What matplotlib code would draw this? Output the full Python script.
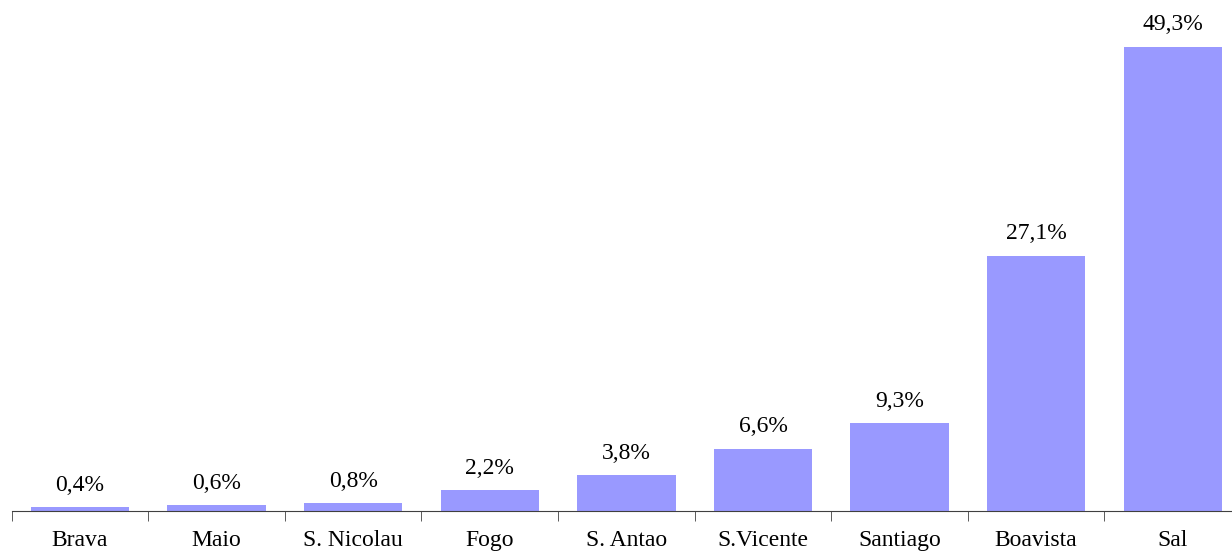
import matplotlib.pyplot as plt
import numpy as np

# Island names and share values (%)
islands = ["Brava", "Maio", "S. Nicolau", "Fogo", "S. Antao", "S.Vicente", "Santiago", "Boavista", "Sal"]
shares = [0.4, 0.6, 0.8, 2.2, 3.8, 6.6, 9.3, 27.1, 49.3]
value_labels = ["0,4%", "0,6%", "0,8%", "2,2%", "3,8%", "6,6%", "9,3%", "27,1%", "49,3%"]

plt.rcParams['font.family'] = ['Liberation Serif', 'DejaVu Serif']

fig = plt.figure(figsize=(12.32, 5.51), dpi=100)
ax = fig.add_axes([11.7 / 1232, 40 / 551, 1229.3 / 1232, 511 / 551])

x = np.arange(len(islands))
bars = ax.bar(x, shares, width=0.72, color="#9999FF")

# value labels above each bar
for xi, v, lab in zip(x, shares, value_labels):
    ax.annotate(lab, (xi, v), xytext=(0, 12), textcoords="offset points",
                ha="center", va="baseline", fontsize=17)

ax.set_xlim(-0.5, len(islands) - 0.5)
ax.set_ylim(0, 54.3)

# category labels at centres, tick marks between categories
ax.set_xticks(x)
ax.set_xticklabels(islands, fontsize=17)
ax.tick_params(axis="x", which="major", length=0, pad=14)
ax.set_xticks(np.arange(-0.5, len(islands)), minor=True)
ax.tick_params(axis="x", which="minor", length=7, direction="out", color="#404040")

ax.set_yticks([])
for s in ["top", "right", "left"]:
    ax.spines[s].set_visible(False)
ax.spines["bottom"].set_color("#404040")

fig.savefig("out.png", dpi=100)
